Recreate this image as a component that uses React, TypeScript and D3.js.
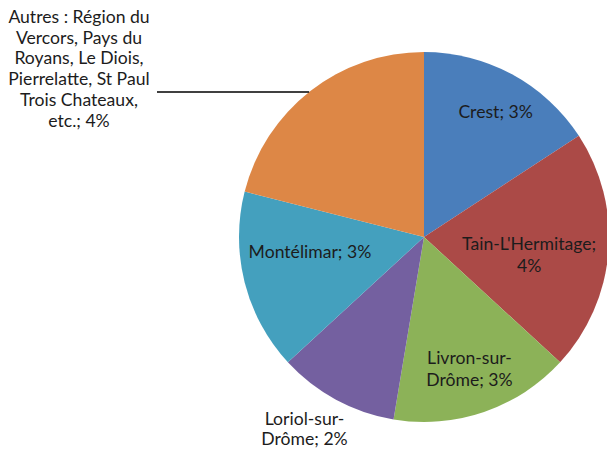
import React from "react";
import * as d3 from "d3";

const categories = [
  "Crest",
  "Tain-L'Hermitage",
  "Livron-sur-Drôme",
  "Loriol-sur-Drôme",
  "Montélimar",
  "Autres : Région du Vercors, Pays du Royans, Le Diois, Pierrelatte, St Paul Trois Chateaux, etc.",
];
const values = [3, 4, 3, 2, 3, 4];
const labelLines = [
  ["Crest; 3%"],
  ["Tain-L'Hermitage;", "4%"],
  ["Livron-sur-", "Drôme; 3%"],
  ["Loriol-sur-", "Drôme; 2%"],
  ["Montélimar; 3%"],
  ["Autres : Région du", "Vercors, Pays du", "Royans, Le Diois,", "Pierrelatte, St Paul", "Trois Chateaux,", "etc.; 4%"],
];
const colors = ["#4A7EBB", "#AB4A47", "#8CB258", "#7460A0", "#44A0BE", "#DD8746"];

const W = 607;
const H = 451;
const cx = 424;
const cy = 237;
const R = 185;
const FONT = 17.6;

// per-label radial factor, nudges and line heights
const labelRadius = [0.768, 0.57, 0.757, 1.232, 0.622, 0];
const labelNudge: [number, number][] = [
  [4, 0],
  [0, 9],
  [0, 0],
  [-11, -8.5],
  [-2.5, -13],
  [0, 0],
];
const labelLH = [22, 22, 22, 20, 22, 20.8];

export default function App() {
  const pie = d3.pie<number>().sort(null).value((d) => d);
  const arcs = pie(values);
  const arc = d3.arc<d3.PieArcDatum<number>>().innerRadius(0).outerRadius(R);

  const leaderY = 92;
  const leaderX2 = cx - Math.sqrt(R * R - (cy - leaderY) * (cy - leaderY));

  return (
    <svg width={W} height={H} style={{ position: "absolute", left: 0, top: 0 }}>
      <rect width={W} height={H} fill="#ffffff" />
      <g transform={`translate(${cx},${cy})`}>
        {arcs.map((a, i) => (
          <path key={categories[i]} d={arc(a) || ""} fill={colors[i]} />
        ))}
      </g>
      {arcs.map((a, i) => {
        const lines = labelLines[i];
        const LH = labelLH[i];
        let x: number;
        let yc: number;
        if (i === 5) {
          x = 79;
          yc = 68.7;
        } else {
          const mid = (a.startAngle + a.endAngle) / 2;
          const r = labelRadius[i] * R;
          x = cx + Math.sin(mid) * r + labelNudge[i][0];
          yc = cy - Math.cos(mid) * r + labelNudge[i][1];
        }
        const y0 = yc - ((lines.length - 1) * LH) / 2 + 6;
        return (
          <text
            key={"l" + i}
            x={x}
            y={y0}
            textAnchor="middle"
            fontFamily="Lato, 'DejaVu Sans', sans-serif"
            fontSize={FONT}
            fill="#1c1c1c"
          >
            {lines.map((t, j) => (
              <tspan key={j} x={x} y={y0 + j * LH}>
                {t}
              </tspan>
            ))}
          </text>
        );
      })}
      <line x1={157} y1={leaderY} x2={leaderX2} y2={leaderY} stroke="#000" strokeWidth={1.3} />
    </svg>
  );
}
